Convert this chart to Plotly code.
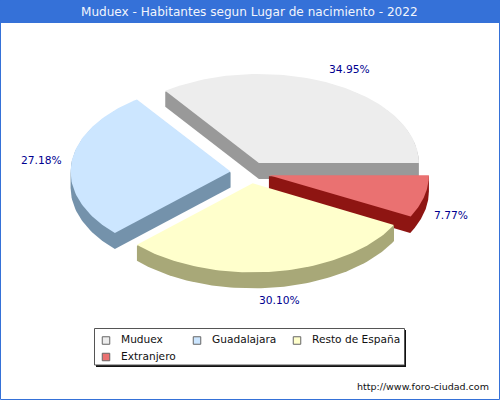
import numpy as np
import plotly.graph_objects as go

# Datos
categorias = ["Muduex", "Guadalajara", "Resto de España", "Extranjero"]
porcentajes = [34.95, 27.18, 30.10, 7.77]
titulo = "Muduex - Habitantes segun Lugar de nacimiento - 2022"
pie_url = "http://www.foro-ciudad.com"

# Colores
color_cara = ["#EDEDED", "#CCE6FF", "#FFFFCC", "#EA7171"]
color_lado = ["#999999", "#7492AB", "#A8A878", "#8E1512"]
AZUL = "#3571D8"

# Geometria de la tarta en pixeles de la imagen
CX, CY = 250.0, 172.6
RX, RY = 160.0, 89.0
EXPLOSION = 19.5
GROSOR = 16.0

# Posicion de las etiquetas de porcentaje (centro del texto)
pos_etiquetas = [(349.5, 69), (41, 160), (279, 300), (451, 215)]


def envolvente(puntos):
    # Envolvente convexa: cada sector es convexo, asi sale la silueta con el lado
    puntos = sorted(set(puntos))

    def media(pts):
        h = []
        for p in pts:
            while len(h) > 1 and (h[-1][0] - h[-2][0]) * (p[1] - h[-2][1]) - (h[-1][1] - h[-2][1]) * (p[0] - h[-2][0]) <= 0:
                h.pop()
            h.append(p)
        return h[:-1]

    h = media(puntos) + media(puntos[::-1])
    return h + h[:1]


def sector(inicio, fin):
    # Sector eliptico desplazado hacia fuera segun su angulo medio
    medio = np.radians((inicio + fin) / 2)
    ox = CX + EXPLOSION * np.cos(medio)
    oy = CY - EXPLOSION * RY / RX * np.sin(medio)
    t = np.radians(np.linspace(inicio, fin, 80))
    xs = np.concatenate([[ox], ox + RX * np.cos(t)])
    ys = np.concatenate([[oy], oy - RY * np.sin(t)])
    return xs, ys


fig = go.Figure()

fin_angulos = np.cumsum(porcentajes) * 3.6
ini_angulos = fin_angulos - np.array(porcentajes) * 3.6

# Orden de pintado: Resto de España va por encima de Extranjero
for i in [0, 1, 3, 2]:
    xs, ys = sector(ini_angulos[i], fin_angulos[i])
    # El lado empieza 1 px mas abajo para que no asome por el borde de la cara
    pts = [(float(x), float(y) + 1) for x, y in zip(xs, ys)]
    pts += [(x, y + GROSOR - 1) for x, y in pts]
    sil = envolvente(pts)
    fig.add_trace(go.Scatter(
        x=[p[0] for p in sil], y=[p[1] for p in sil],
        mode="lines", fill="toself", fillcolor=color_lado[i],
        line=dict(width=0), hoverinfo="skip", showlegend=False,
    ))
    fig.add_trace(go.Scatter(
        x=np.append(xs, xs[0]), y=np.append(ys, ys[0]),
        mode="lines", fill="toself", fillcolor=color_cara[i],
        line=dict(width=0), name=categorias[i], showlegend=False,
    ))

# Leyenda dibujada a mano: las columnas del original no son regulares
ley_x = [106, 197, 297, 106]
ley_y = [340.5, 340.5, 340.5, 357]
ley_texto_x = [119, 209.5, 310, 119]
fig.add_trace(go.Scatter(
    x=ley_x, y=ley_y, mode="markers", hoverinfo="skip", showlegend=False,
    marker=dict(symbol="square", size=7.5, color=color_cara, line=dict(color="#666666", width=1)),
))

anotaciones = [
    dict(x=249.5, y=11.5, text=titulo, showarrow=False,
         font=dict(family="DejaVu Sans", size=12.07, color="#F2F5FC")),
    dict(x=491, y=386, text=pie_url, showarrow=False, xanchor="right",
         font=dict(family="DejaVu Sans", size=9.5, color="#111111")),
]
for (px_, py_), v in zip(pos_etiquetas, porcentajes):
    anotaciones.append(dict(x=px_, y=py_, text=f"{v:.2f}%", showarrow=False,
                            font=dict(family="DejaVu Sans", size=10.7, color="#000090")))
for c, x_, y_ in zip(categorias, ley_texto_x, ley_y):
    anotaciones.append(dict(x=x_, y=y_ - 1.5, text=c, showarrow=False, xanchor="left",
                            font=dict(family="DejaVu Sans", size=10.6, color="#111111")))

formas = [
    # Cabecera y marco azul
    dict(type="rect", x0=0, x1=500, y0=0, y1=23, fillcolor=AZUL, line=dict(width=0), layer="below"),
    dict(type="rect", x0=0.5, x1=499.5, y0=0.5, y1=399.5, line=dict(color=AZUL, width=1), layer="below"),
    # Caja de la leyenda con sombra
    dict(type="rect", x0=96, x1=406, y0=330, y1=367, fillcolor="#111111", line=dict(width=0), layer="below"),
    dict(type="rect", x0=94.5, x1=404.5, y0=328.5, y1=365, fillcolor="white",
         line=dict(color="#555555", width=1), layer="below"),
]

fig.update_layout(
    width=500, height=400,
    margin=dict(l=0, r=0, t=0, b=0),
    paper_bgcolor="white", plot_bgcolor="white",
    showlegend=False,
    xaxis=dict(range=[0, 500], visible=False, fixedrange=True),
    yaxis=dict(range=[400, 0], visible=False, fixedrange=True),
    annotations=anotaciones,
    shapes=formas,
)

fig.write_html(
    "out.html",
    config={"displayModeBar": False},
    post_script="document.body.style.margin='0';document.body.style.overflow='hidden';",
)
